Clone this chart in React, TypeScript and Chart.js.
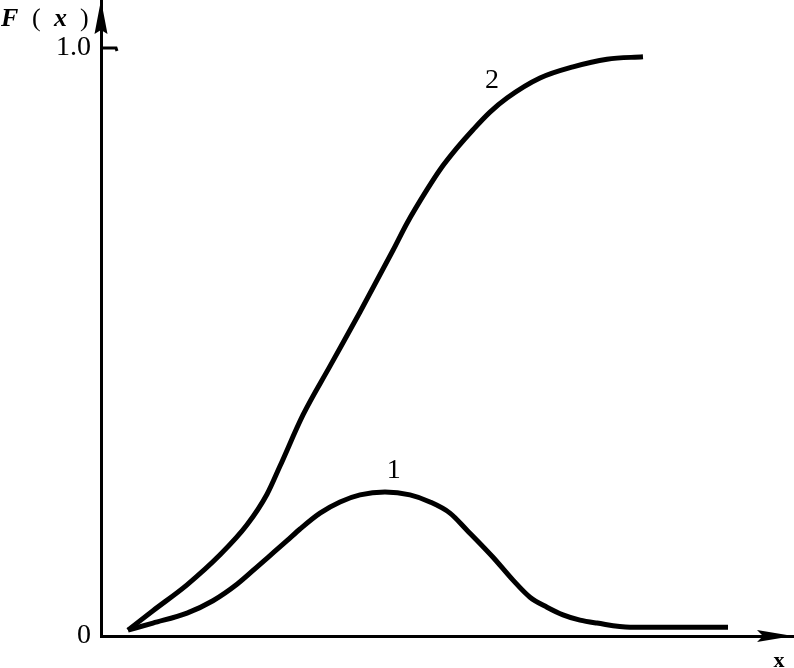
import React, { useEffect, useRef } from "react";
import { Chart, registerables } from "chart.js";

Chart.register(...registerables);

// Curve 1 (bell-shaped) sample points
const curve1X = [0.39, 0.751, 1.243, 1.618, 1.965, 2.298, 2.688, 2.876, 3.165, 3.454, 3.743, 4.104, 4.465, 4.754, 5.043, 5.289, 5.665, 5.954, 6.199, 6.445, 6.676, 6.922, 7.168, 7.645, 9.061];
const curve1Y = [0.01, 0.022, 0.039, 0.06, 0.088, 0.122, 0.162, 0.182, 0.209, 0.228, 0.24, 0.245, 0.24, 0.228, 0.209, 0.18, 0.134, 0.095, 0.066, 0.049, 0.036, 0.027, 0.022, 0.015, 0.015];

// Curve 2 (S-shaped) sample points
const curve2X = [0.39, 0.751, 1.243, 1.72, 2.11, 2.399, 2.587, 2.919, 3.309, 3.743, 4.22, 4.422, 4.711, 4.899, 5.145, 5.376, 5.621, 5.867, 6.344, 6.821, 7.312, 7.832];
const curve2Y = [0.01, 0.043, 0.087, 0.138, 0.189, 0.241, 0.289, 0.376, 0.459, 0.551, 0.656, 0.702, 0.759, 0.793, 0.83, 0.861, 0.891, 0.915, 0.949, 0.968, 0.981, 0.985];

const seriesNames = ["1", "2"];
const yTickValues = [0, 1];
const yTickLabels = ["0", "1.0"];
const xMin = 0;
const xMax = 10;
const yMin = 0;
const yMax = 1.0816;

const SERIF = "'Liberation Serif', 'Times New Roman', serif";

const toPoints = (xs: number[], ys: number[]) => xs.map((x, i) => ({ x, y: ys[i] }));

const decorPlugin = {
  id: "decor",
  afterDraw(chart: any) {
    const { ctx, chartArea, scales } = chart;
    const L = chartArea.left;
    const B = chartArea.bottom;
    const T = chartArea.top;
    const R = chartArea.right;
    ctx.save();
    ctx.fillStyle = "#000";
    ctx.strokeStyle = "#000";
    // y-axis arrow
    ctx.beginPath();
    ctx.moveTo(L, T);
    ctx.lineTo(L + 6.5, T + 34);
    ctx.lineTo(L, T + 30);
    ctx.lineTo(L - 6.5, T + 34);
    ctx.closePath();
    ctx.fill();
    // x-axis arrow
    ctx.beginPath();
    ctx.moveTo(R, B);
    ctx.lineTo(R - 36, B - 6);
    ctx.lineTo(R - 30, B);
    ctx.lineTo(R - 36, B + 6);
    ctx.closePath();
    ctx.fill();
    // tick mark at 1.0 (inside)
    const y1 = scales.y.getPixelForValue(1);
    ctx.lineWidth = 3;
    ctx.beginPath();
    ctx.moveTo(L, y1);
    ctx.lineTo(L + 15, y1);
    ctx.lineTo(L + 16, y1 + 3);
    ctx.stroke();
    // axis titles
    ctx.textBaseline = "alphabetic";
    ctx.textAlign = "left";
    ctx.font = `italic bold 26px ${SERIF}`;
    ctx.fillText("F", 1, 26);
    ctx.font = `26px ${SERIF}`;
    ctx.fillText("(", 32, 26);
    ctx.fillText(")", 80, 26);
    ctx.font = `italic bold 26px ${SERIF}`;
    ctx.fillText("x", 54, 26);
    ctx.font = `bold 22px ${SERIF}`;
    ctx.textAlign = "center";
    ctx.fillText("x", 779, 667);
    // curve labels
    ctx.font = `28px ${SERIF}`;
    ctx.textAlign = "center";
    ctx.textBaseline = "middle";
    ctx.fillText(seriesNames[0], scales.x.getPixelForValue(4.23), scales.y.getPixelForValue(0.282));
    ctx.fillText(seriesNames[1], scales.x.getPixelForValue(5.65), scales.y.getPixelForValue(0.944));
    ctx.restore();
  },
};

export default function App() {
  const canvasRef = useRef<HTMLCanvasElement | null>(null);

  useEffect(() => {
    document.body.style.margin = "0";
    const canvas = canvasRef.current;
    if (!canvas) return;
    const chart = new Chart(canvas, {
      type: "line",
      data: {
        datasets: [
          {
            label: seriesNames[0],
            data: toPoints(curve1X, curve1Y),
            borderColor: "#000",
            borderWidth: 5,
            pointRadius: 0,
            fill: false,
            cubicInterpolationMode: "monotone",
          },
          {
            label: seriesNames[1],
            data: toPoints(curve2X, curve2Y),
            borderColor: "#000",
            borderWidth: 5,
            pointRadius: 0,
            fill: false,
            cubicInterpolationMode: "monotone",
          },
        ],
      },
      options: {
        responsive: false,
        animation: false,
        layout: { padding: { left: 0, right: 1, top: 0, bottom: 0 } },
        plugins: {
          legend: { display: false },
          tooltip: { enabled: false },
          title: { display: false },
        },
        scales: {
          x: {
            type: "linear",
            min: xMin,
            max: xMax,
            grid: { display: false, drawTicks: false },
            ticks: { display: false },
            border: { display: true, color: "#000", width: 3 },
            afterFit(scale: any) {
              scale.height = 32;
              scale.paddingLeft = 0;
              scale.paddingRight = 0;
            },
          },
          y: {
            type: "linear",
            min: yMin,
            max: yMax,
            afterBuildTicks(scale: any) {
              scale.ticks = yTickValues.map((v) => ({ value: v }));
            },
            grid: { display: false, drawTicks: false },
            border: { display: true, color: "#000", width: 3 },
            ticks: {
              color: "#000",
              padding: 10,
              font: { family: SERIF, size: 28 },
              callback: (value: any) => {
                const i = yTickValues.indexOf(Number(value));
                return i >= 0 ? yTickLabels[i] : "";
              },
            },
            afterFit(scale: any) {
              scale.width = 101;
              scale.paddingTop = 0;
              scale.paddingBottom = 0;
            },
          },
        },
      },
      plugins: [decorPlugin],
    });
    return () => chart.destroy();
  }, []);

  return (
    <div style={{ position: "absolute", left: 0, top: 0, width: 794, height: 668, background: "#fff" }}>
      <canvas ref={canvasRef} width={794} height={668} style={{ display: "block" }} />
    </div>
  );
}
